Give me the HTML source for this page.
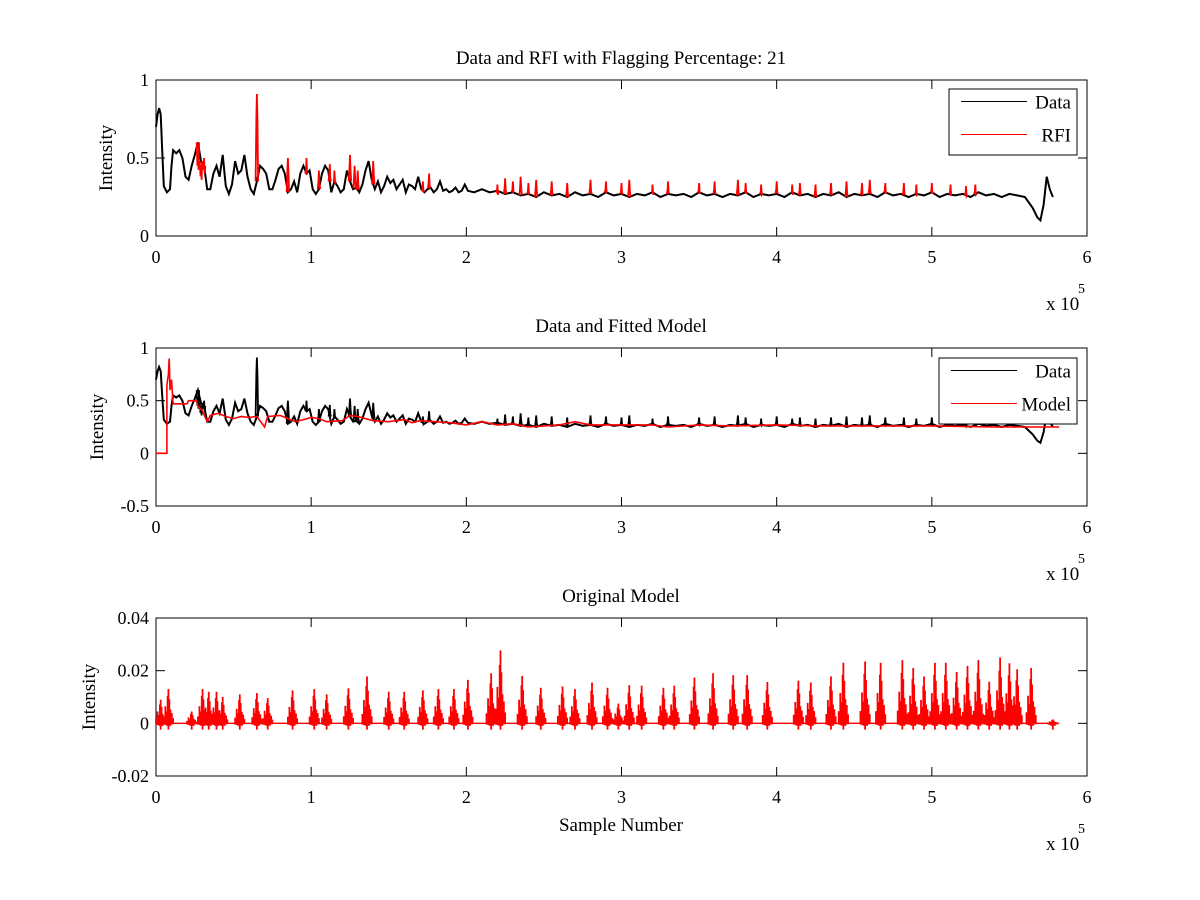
<!DOCTYPE html>
<html><head><meta charset="utf-8"><style>
body{margin:0;background:#fff;}
svg{display:block;font-family:"Liberation Serif",serif;}
</style></head><body>
<svg id="fig" width="1200" height="900" xmlns="http://www.w3.org/2000/svg"></svg>
<script>
// ---- data ----
const dataX=[0,.01,.02,.03,.04,.05,.07,.09,.10,.11,.13,.15,.17,.19,.21,.23,.25,.27,.29,.31,.33,.35,.37,.39,.41,.43,.45,.47,.49,.51,.53,.55,.57,.59,.61,.63,.65,.67,.69,.71,.73,.75,.77,.79,.81,.83,.85,.87,.89,.91,.93,.95,.97,.99,1.01,1.03,1.05,1.07,1.09,1.11,1.13,1.15,1.17,1.19,1.21,1.23,1.25,1.27,1.29,1.31,1.33,1.35,1.37,1.39,1.41,1.43,1.45,1.47,1.49,1.51,1.53,1.55,1.57,1.59,1.61,1.63,1.65,1.67,1.69,1.71,1.73,1.75,1.77,1.79,1.81,1.83,1.85,1.87,1.89,1.91,1.93,1.95,1.97,1.99,2.01,2.05,2.1,2.15,2.2,2.25,2.3,2.35,2.4,2.45,2.5,2.55,2.6,2.65,2.7,2.75,2.8,2.85,2.9,2.95,3.0,3.05,3.1,3.15,3.2,3.25,3.3,3.35,3.4,3.45,3.5,3.55,3.6,3.65,3.7,3.75,3.8,3.85,3.9,3.95,4.0,4.05,4.1,4.15,4.2,4.25,4.3,4.35,4.4,4.45,4.5,4.55,4.6,4.65,4.7,4.75,4.8,4.85,4.9,4.95,5.0,5.05,5.1,5.15,5.2,5.25,5.3,5.35,5.4,5.45,5.5,5.55,5.6,5.65,5.68,5.70,5.72,5.74,5.76,5.78,5.80,5.81,5.82];
const dataY=[.70,.78,.82,.78,.55,.32,.28,.30,.45,.55,.53,.55,.50,.38,.36,.45,.52,.60,.48,.45,.30,.30,.40,.45,.38,.52,.32,.27,.33,.48,.40,.42,.52,.38,.30,.27,.35,.45,.43,.40,.30,.30,.36,.43,.45,.40,.28,.30,.35,.28,.40,.45,.40,.42,.30,.27,.30,.40,.45,.42,.28,.35,.32,.28,.30,.42,.35,.30,.31,.28,.33,.42,.48,.36,.30,.35,.28,.32,.38,.34,.36,.30,.33,.36,.28,.33,.32,.30,.38,.30,.28,.30,.31,.28,.30,.35,.29,.30,.28,.29,.31,.28,.29,.33,.29,.28,.30,.28,.29,.27,.28,.26,.27,.25,.28,.26,.27,.25,.28,.26,.27,.25,.28,.26,.27,.25,.27,.26,.28,.25,.27,.26,.27,.25,.28,.26,.27,.25,.27,.26,.28,.25,.27,.26,.27,.25,.28,.26,.27,.25,.27,.26,.28,.25,.27,.26,.27,.25,.28,.26,.27,.25,.27,.26,.28,.25,.27,.26,.27,.25,.28,.26,.27,.25,.27,.26,.25,.18,.12,.10,.20,.38,.30,.25];
const rfiX=[.27,.29,.31,.65,.85,.97,1.05,1.12,1.15,1.25,1.28,1.30,1.40,1.72,1.76,2.20,2.25,2.30,2.35,2.40,2.45,2.55,2.65,2.80,2.90,3.00,3.05,3.20,3.30,3.50,3.60,3.75,3.80,3.90,4.00,4.10,4.15,4.25,4.35,4.45,4.55,4.60,4.70,4.82,4.90,5.00,5.12,5.22,5.28];
const rfiY=[.53,.45,.50,.91,.50,.50,.42,.46,.42,.52,.45,.42,.48,.35,.40,.33,.37,.35,.38,.34,.36,.35,.34,.36,.35,.34,.36,.33,.35,.34,.35,.36,.34,.33,.35,.33,.34,.33,.34,.35,.34,.36,.34,.34,.33,.34,.33,.32,.33];
const modelX=[0,.07,.07,.08,.085,.09,.10,.11,.20,.21,.26,.27,.30,.33,.35,.40,.45,.50,.55,.60,.65,.70,.72,.80,.85,.90,.95,1.0,1.05,1.1,1.2,1.25,1.3,1.4,1.5,1.6,1.65,1.7,1.8,1.9,2.0,2.1,2.2,2.3,2.4,2.6,2.7,2.8,3.0,3.2,3.3,3.5,3.7,4.0,4.3,4.6,5.0,5.4,5.82];
const modelY=[0,0,.65,.75,.90,.60,.70,.47,.47,.50,.50,.45,.40,.30,.36,.38,.35,.33,.35,.34,.35,.25,.35,.36,.33,.30,.32,.34,.33,.30,.31,.36,.35,.31,.30,.32,.29,.31,.30,.29,.27,.30,.27,.28,.25,.27,.30,.27,.27,.27,.25,.27,.26,.27,.26,.26,.26,.25,.25];
const origX=[.03,.08,.23,.30,.34,.39,.43,.54,.65,.72,.88,1.02,1.10,1.24,1.36,1.50,1.60,1.72,1.82,1.92,2.01,2.16,2.22,2.36,2.48,2.62,2.70,2.81,2.91,2.98,3.05,3.13,3.27,3.34,3.47,3.59,3.72,3.81,3.94,4.14,4.22,4.35,4.43,4.57,4.67,4.81,4.88,4.95,5.02,5.09,5.16,5.23,5.30,5.37,5.44,5.50,5.55,5.64,5.78];
const origY=[.009,.013,.0045,.013,.012,.012,.010,.011,.0115,.0096,.0125,.013,.011,.0133,.0178,.012,.012,.0125,.013,.013,.0165,.019,.0277,.018,.0135,.014,.013,.0155,.0135,.0075,.0145,.0143,.0135,.0143,.0174,.019,.0183,.0183,.0157,.0162,.0155,.0178,.023,.0235,.023,.024,.021,.0178,.023,.023,.0195,.0218,.024,.0158,.025,.0228,.0205,.021,.0015];
const xTicks=[0,1,2,3,4,5,6];

// ---- helpers ----
const NS="http://www.w3.org/2000/svg";
const svg=document.getElementById('fig');
function mk(tag,attrs,parent){const e=document.createElementNS(NS,tag);for(const k in attrs)e.setAttribute(k,attrs[k]);(parent||svg).appendChild(e);return e;}
const L=156,R=1087;
const sx=v=>L+(R-L)*v/6;
function interp(x){for(let i=1;i<dataX.length;i++){if(dataX[i]>=x){const t=(x-dataX[i-1])/((dataX[i]-dataX[i-1])||1);return dataY[i-1]+t*(dataY[i]-dataY[i-1]);}}return dataY[dataY.length-1];}

function axes(top,bot,ymin,ymax,yticks,ylabels,title,ylabX,xlabel){
  const sy=v=>bot-(bot-top)*(v-ymin)/(ymax-ymin);
  const g=mk('g',{});
  
  
  const r=mk('rect',{x:L,y:top,width:R-L,height:bot-top,fill:'none',stroke:'#000','stroke-width':1},g);
  
  xTicks.forEach(t=>{const x=sx(t);
    mk('line',{x1:x,y1:bot,x2:x,y2:bot-9,stroke:'#000'},g);mk('line',{x1:x,y1:top,x2:x,y2:top+9,stroke:'#000'},g);
    const tx=mk('text',{x:x,y:bot+27,'text-anchor':'middle','font-size':18},g);tx.textContent=t;
    });
  yticks.forEach((t,i)=>{const y=sy(t);
    mk('line',{x1:L,y1:y,x2:L+9,y2:y,stroke:'#000'},g);mk('line',{x1:R,y1:y,x2:R-9,y2:y,stroke:'#000'},g);
    const tx=mk('text',{x:149,y:y+6,'text-anchor':'end','font-size':18},g);tx.textContent=ylabels[i];
    });
  const ti=mk('text',{x:621,y:top-16,'text-anchor':'middle','font-size':19},g);ti.textContent=title;
  
  const yl=mk('text',{x:ylabX,y:(top+bot)/2,'text-anchor':'middle','font-size':19,transform:`rotate(-90 ${ylabX} ${(top+bot)/2})`},g);yl.textContent='Intensity';
  
  const ex=mk('text',{x:1046,y:bot+74,'font-size':19},g);ex.textContent='x 10';
  
  const e5=mk('text',{x:1078,y:bot+57,'font-size':14},g);e5.textContent='5';
  
  if(xlabel){const xl=mk('text',{x:621,y:bot+55,'text-anchor':'middle','font-size':19},g);xl.textContent=xlabel;
    }
  return {sy,g};
}
function line(xs,ys,sy,color,w,name){const p=xs.map((x,i)=>sx(x).toFixed(1)+','+sy(ys[i]).toFixed(1)).join(' ');
  const e=mk('polyline',{points:p,fill:'none',stroke:color,'stroke-width':w});return e;}
function spikes(sy,color,name){rfiX.forEach((x,i)=>{const b=interp(x);
  const xs=[x-.008,x-.003,x,x+.004,x+.008],ys=[b,rfiY[i]*0.85,rfiY[i],rfiY[i]*0.8,b];
  line(xs,ys,sy,color,1.8,name);});}
function legend(x,y,w,h,labels,colors,name){
  const g=mk('g',{});
  mk('rect',{x:x,y:y,width:w,height:h,fill:'#fff',stroke:'#000'},g);
  labels.forEach((lb,i)=>{const yy=y+h*(i+0.5)/2;
    mk('line',{x1:x+12,y1:yy-4,x2:x+78,y2:yy-4,stroke:colors[i]},g);
    const t=mk('text',{x:x+w-6,y:yy+3,'text-anchor':'end','font-size':19},g);t.textContent=lb;
    });
}

// Panel 1
const a1=axes(80,236,0,1,[0,.5,1],['0','0.5','1'],'Data and RFI with Flagging Percentage: 21',112);
line(dataX,dataY,a1.sy,'#000',2,'data-line');
spikes(a1.sy,'#f00','rfi-spike');
legend(949,89,128,66,['Data','RFI'],['#000','#f00'],'legend-top');

// Panel 2
const a2=axes(348,506,-0.5,1,[-0.5,0,.5,1],['-0.5','0','0.5','1'],'Data and Fitted Model',103);
line(dataX,dataY,a2.sy,'#000',2,'data-line-2');
spikes(a2.sy,'#000','data-spike');
line(modelX,modelY,a2.sy,'#f00',1.6,'model-line');
legend(939,358,138,66,['Data','Model'],['#000','#f00'],'legend-middle');

// Panel 3
const a3=axes(618,776,-0.02,0.04,[-0.02,0,.02,.04],['-0.02','0','0.02','0.04'],'Original Model',95,'Sample Number');
line([0,5.82],[0,0],a3.sy,'#f00',1.4,'model-baseline');
origX.forEach((x,i)=>{
  const offs=[-.03,-.02,-.012,-.005,0,.006,.013,.022,.03];
  const mult=[.2,.5,.35,.8,1,.7,.4,.3,.15];
  offs.forEach((o,j)=>{const xx=sx(x+o);
    const e=mk('line',{x1:xx,y1:a3.sy(-0.0012*mult[j]*(j%2?1:2)),x2:xx,y2:a3.sy(origY[i]*mult[j]),stroke:'#f00','stroke-width':1.8});
    
    
  });
});
</script>
</body></html>
